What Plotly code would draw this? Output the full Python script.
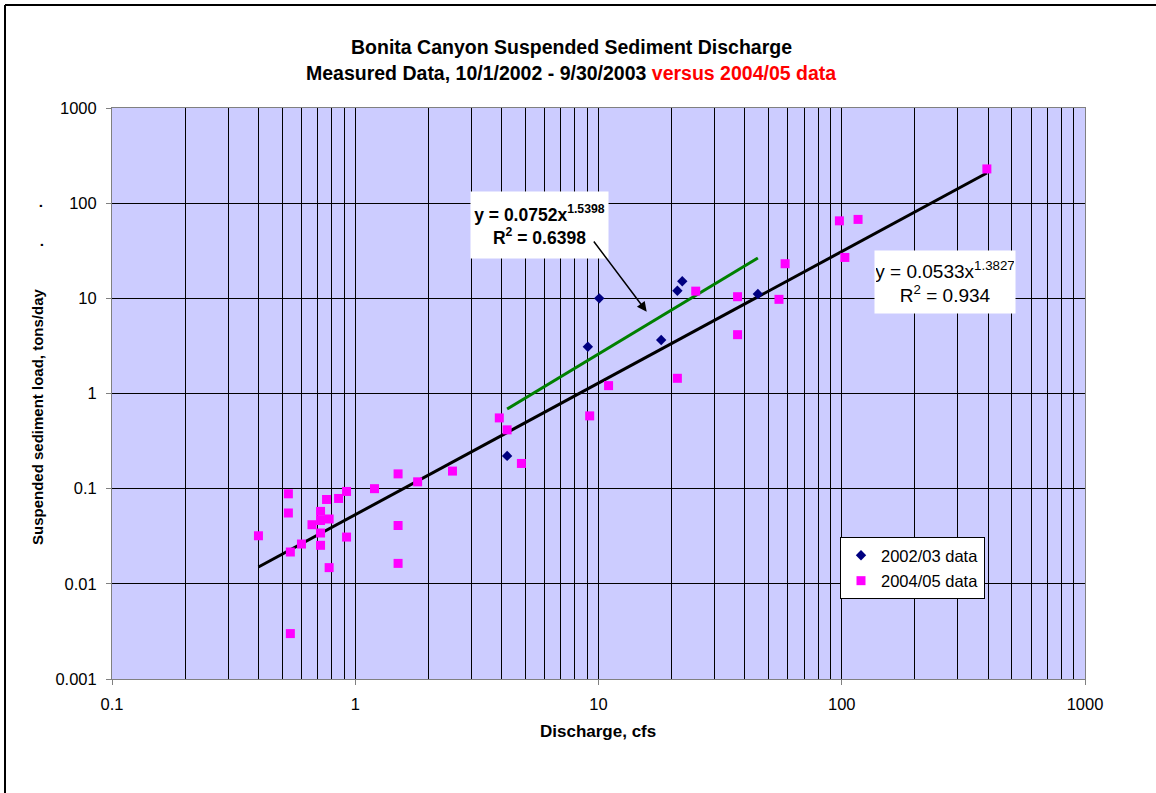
import numpy as np
import plotly.graph_objects as go

# ---- measured data -------------------------------------------------------
q_0203 = [4.21, 9.04, 10.07, 18.1, 21.1, 22.1, 45.2]
load_0203 = [0.221, 3.10, 10.0, 3.65, 12.0, 15.1, 11.1]

q_0405 = [0.40, 0.531, 0.531, 0.541, 0.541, 0.601, 0.664, 0.72, 0.72, 0.72,
          0.72, 0.762, 0.781, 0.781, 0.854, 0.921, 0.921, 1.20, 1.50, 1.50,
          1.50, 1.805, 2.51, 3.91, 4.21, 4.82, 9.2, 11.0, 21.1, 25.1,
          37.3, 37.3, 55.2, 58.5, 97.8, 103, 116.7, 395]
load_0405 = [0.032, 0.0883, 0.0555, 0.0216, 0.0030, 0.0262, 0.0418, 0.0577,
             0.0463, 0.0342, 0.0254, 0.077, 0.048, 0.0148, 0.0789, 0.0935,
             0.031, 0.100, 0.143, 0.041, 0.0164, 0.118, 0.153, 0.554, 0.415,
             0.184, 0.582, 1.21, 1.445, 11.9, 10.4, 4.15, 9.76, 23.1, 65.2,
             26.9, 67.5, 229]

# power-law trend lines  y = a * x^b  (a, b, R^2)
fit_0203 = (0.0752, 1.5398, 0.6398)
fit_0405 = (0.0533, 1.3827, 0.934)

x_decades = [0.1, 1, 10, 100, 1000]
x_decade_labels = ["0.1", "1", "10", "100", "1000"]
y_decades = [0.001, 0.01, 0.1, 1, 10, 100, 1000]
y_decade_labels = ["0.001", "0.01", "0.1", "1", "10", "100", "1000"]

FONT = "Liberation Sans, Arial, sans-serif"
W, H = 1156, 793
ML, MR, MT, MB = 112, 71, 108, 114
PW, PH = W - ML - MR, H - MT - MB


def px_x(px):
    return (px - ML) / PW


def px_y(py):
    return (H - MB - py) / PH


def trend(xs, fit):
    a, b, _ = fit
    xe = np.array([min(xs), max(xs)])
    return xe, a * xe ** b


# vertical gridlines at every 1..9 multiple of each decade
x_grid = [m * 10.0 ** e for e in range(-1, 3) for m in range(1, 10)] + [1000]

fig = go.Figure()

tx, ty = trend(q_0405, fit_0405)
fig.add_trace(go.Scatter(x=tx, y=ty, mode="lines", showlegend=False,
                         line=dict(color="black", width=3), hoverinfo="skip"))
gx, gy = trend(q_0203, fit_0203)
fig.add_trace(go.Scatter(x=gx, y=gy, mode="lines", showlegend=False,
                         line=dict(color="#008000", width=3), hoverinfo="skip"))

fig.add_trace(go.Scatter(x=q_0203, y=load_0203, mode="markers",
                         name="2002/03 data", legendgroup="a",
                         marker=dict(symbol="diamond", size=8, color="#000080")))
fig.add_trace(go.Scatter(x=q_0405, y=load_0405, mode="markers",
                         name="2004/05 data", legendgroup="b",
                         marker=dict(symbol="square", size=9, color="#FF00FF")))

# overlay axis carrying the minor vertical gridlines
fig.add_trace(go.Scatter(x=[1], y=[1], xaxis="x2", mode="markers",
                         marker=dict(opacity=0), showlegend=False,
                         hoverinfo="skip"))

axis_font = dict(family=FONT, size=16.5, color="black")
fig.update_layout(
    width=W, height=H,
    margin=dict(l=ML, r=MR, t=MT, b=MB),
    paper_bgcolor="white",
    plot_bgcolor="#CCCCFF",
    showlegend=True,
    xaxis=dict(type="log", range=[-1, 3], tickmode="array",
               tickvals=x_decades, ticktext=x_decade_labels,
               ticks="outside", ticklen=5, tickcolor="#808080",
               showgrid=True, gridcolor="black", gridwidth=1,
               showline=True, linecolor="#808080", linewidth=1, mirror=True,
               tickfont=axis_font, ticklabelstandoff=5, zeroline=False),
    xaxis2=dict(type="log", range=[-1, 3], overlaying="x", anchor="y",
                side="bottom", tickmode="array", tickvals=x_grid,
                ticks="", showticklabels=False,
                showgrid=True, gridcolor="black", gridwidth=1,
                showline=False, zeroline=False),
    yaxis=dict(type="log", range=[-3, 3], tickmode="array",
               tickvals=y_decades, ticktext=y_decade_labels,
               ticks="outside", ticklen=5, tickcolor="#808080",
               showgrid=True, gridcolor="black", gridwidth=1,
               showline=True, linecolor="#808080", linewidth=1, mirror=True,
               tickfont=axis_font, ticklabelstandoff=6, zeroline=False),
    legend=dict(x=px_x(840), y=px_y(537), xanchor="left", yanchor="top",
                bgcolor="white", bordercolor="black", borderwidth=1,
                font=dict(family=FONT, size=16.5, color="black"),
                traceorder="grouped", tracegroupgap=1),
)

annotations = [
    dict(x=px_x(571), y=px_y(46.5), xref="paper", yref="paper",
         text="<b>Bonita Canyon Suspended Sediment Discharge</b>",
         font=dict(family=FONT, size=19.5, color="black"),
         showarrow=False, xanchor="center", yanchor="middle"),
    dict(x=px_x(571), y=px_y(73), xref="paper", yref="paper",
         text="<b>Measured Data, 10/1/2002 - 9/30/2003 "
              "<span style='color:#FF0000'>versus 2004/05 data</span></b>",
         font=dict(family=FONT, size=19.5, color="black"),
         showarrow=False, xanchor="center", yanchor="middle"),
    dict(x=px_x(598), y=px_y(731), xref="paper", yref="paper",
         text="<b>Discharge, cfs</b>",
         font=dict(family=FONT, size=17, color="black"),
         showarrow=False, xanchor="center", yanchor="middle"),
    dict(x=px_x(37), y=px_y(417), xref="paper", yref="paper",
         text="<b>Suspended sediment load, tons/day</b>", textangle=-90,
         font=dict(family=FONT, size=15, color="black"),
         showarrow=False, xanchor="center", yanchor="middle"),
    dict(x=px_x(37), y=px_y(245), xref="paper", yref="paper",
         text="<b>.</b>", textangle=-90,
         font=dict(family=FONT, size=15, color="black"),
         showarrow=False, xanchor="center", yanchor="middle"),
    dict(x=px_x(37), y=px_y(206), xref="paper", yref="paper",
         text="<b>.</b>", textangle=-90,
         font=dict(family=FONT, size=15, color="black"),
         showarrow=False, xanchor="center", yanchor="middle"),
    # trend line equations
    dict(x=px_x(539.5), y=px_y(225), xref="paper", yref="paper",
         text="<b>y = %.4fx<sup>%.4f</sup><br>R<sup>2</sup> = %.4f</b>" % fit_0203,
         font=dict(family=FONT, size=17.5, color="black"),
         bgcolor="white", width=135, height=64, align="center",
         showarrow=False, xanchor="center", yanchor="middle"),
    dict(x=px_x(945), y=px_y(282), xref="paper", yref="paper",
         text="y = %.4fx<sup>%.4f</sup><br>R<sup>2</sup> = %.3f" % fit_0405,
         font=dict(family=FONT, size=19, color="black"),
         bgcolor="white", width=138, height=60, align="center",
         showarrow=False, xanchor="center", yanchor="middle"),
    # pointer from the equation box to the green line
    dict(x=px_x(646.7), y=px_y(311.7), xref="paper", yref="paper",
         text="", showarrow=True, ax=-54, ay=-71.7,
         arrowhead=2, arrowsize=1.3, arrowwidth=1.5, arrowcolor="black"),
]
fig.update_layout(annotations=annotations)

# chart frame
fig.add_shape(type="line", xref="paper", yref="paper",
              x0=px_x(5), y0=px_y(5), x1=px_x(5), y1=px_y(800),
              line=dict(color="black", width=2))
fig.add_shape(type="line", xref="paper", yref="paper",
              x0=px_x(5), y0=px_y(5), x1=px_x(1160), y1=px_y(5),
              line=dict(color="black", width=2))

fig.write_html("out.html")
